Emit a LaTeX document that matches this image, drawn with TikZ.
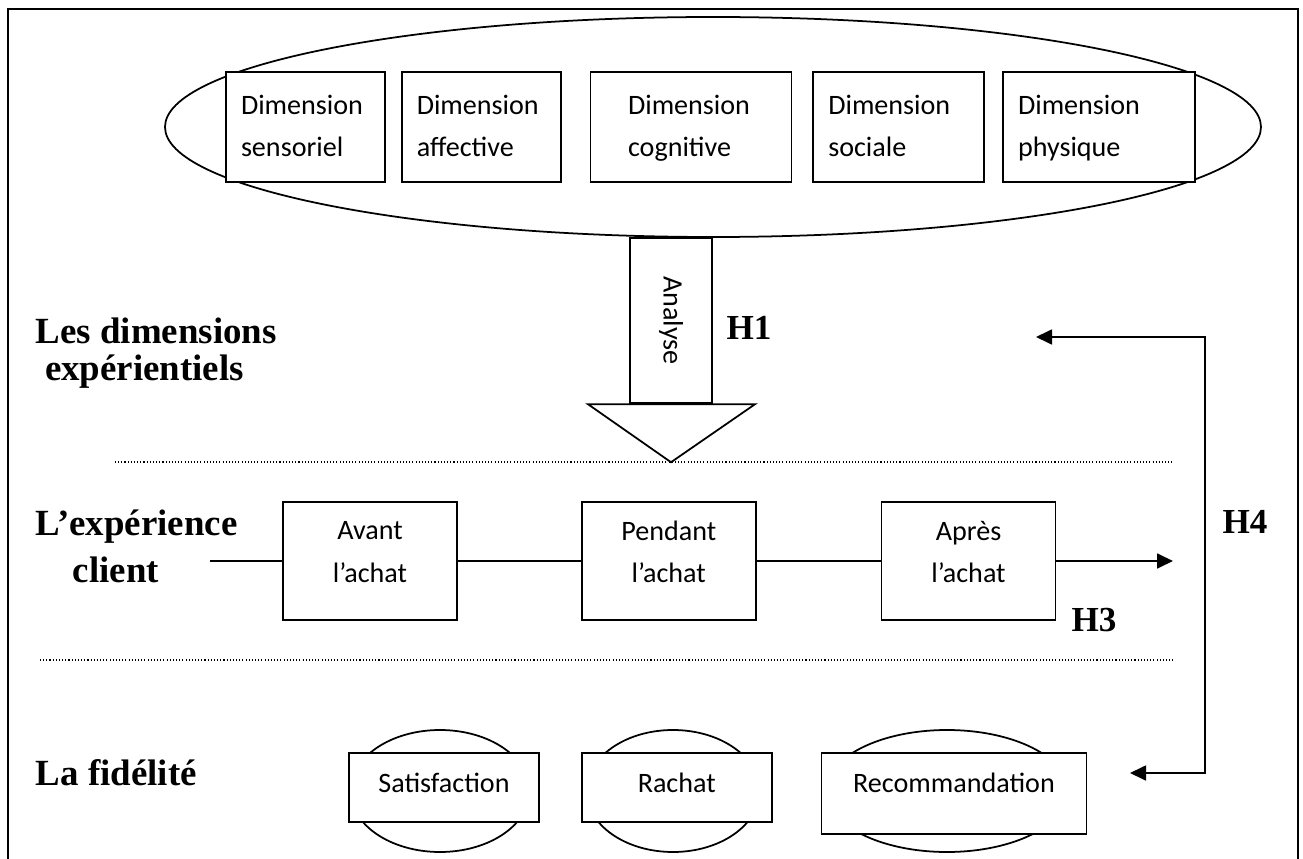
\documentclass[tikz,border=0pt]{standalone}
\usepackage{fontspec}
\setmainfont{Liberation Serif}
\newfontfamily\calibri{Carlito}
\usetikzlibrary{arrows.meta}
\usetikzlibrary{positioning, shapes.geometric}

\begin{document}
\begin{tikzpicture}[>={Triangle[length=0.32cm,width=0.3cm]},line width=1pt,
  dim box/.style={rectangle,draw,fill=white,font=\calibri\fontsize{16}{24}\selectfont,align=left,text width=#1,minimum height=2.2cm,inner xsep=0.3cm,inner ysep=0pt},
  stage box/.style={rectangle,draw,fill=white,font=\calibri\fontsize{16}{24}\selectfont,align=center,minimum width=3.48cm,minimum height=2.36cm,execute at end node={\rule[-0.36cm]{0pt}{0.36cm}}},
  fact box/.style={rectangle,draw,fill=white,font=\calibri\fontsize{16}{19}\selectfont,minimum width=3.8cm,minimum height=1.38cm,text depth=0.2cm},
  fact oval/.style={ellipse,draw,inner sep=0pt,minimum height=2.44cm},
  side label/.style={font=\bfseries\fontsize{21}{21}\selectfont,align=left,anchor=north west,inner sep=0pt},
  hyp/.style={font=\bfseries\fontsize{20}{24}\selectfont,inner sep=0pt},
  sep line/.style={line width=0.6pt,dash pattern=on 0.6pt off 1.2pt}]

        \useasboundingbox (0,0) rectangle (26.06,-17.18);
        \draw (0.16,-17.18) -- (0.16,-0.18) -- (25.96,-0.18) -- (25.96,-17.18);

        \node[ellipse,draw,minimum width=21.92cm,minimum height=4.4cm,inner sep=0pt] (dimoval) at (14.26,-2.54) {};
        \node[dim box=2.58cm] (sens) at (6.11,-2.54) {\strut Dimension\\sensoriel\strut};
        \node[dim box=2.58cm] (affect) [right=0.3cm of sens]  {\strut Dimension\\affective\strut};
        \node[dim box=2.52cm,inner xsep=0.75cm] (cogn) [right=0.56cm of affect] {\strut Dimension\\cognitive\strut};
        \node[dim box=2.82cm] (soc) [right=0.4cm of cogn]   {\strut Dimension\\sociale\strut};
        \node[dim box=3.24cm] (phys) [right=0.34cm of soc]  {\strut Dimension\\physique\strut};

        \node[rectangle,draw,fill=white,line width=1.4pt,rotate=-90,minimum width=3.3cm,minimum height=1.64cm,inner sep=0pt,font=\calibri\fontsize{16}{19}\selectfont] (analyse) at (13.42,-6.41) {Analyse};
        \draw[fill=white] ([xshift=-1.66cm]analyse.east) -- ([xshift=1.68cm]analyse.east) -- ([yshift=-1.16cm]analyse.east) -- cycle;
        \node[hyp] (h1) at (14.98,-6.56) {H1};

        \node[side label] (dimlabel) at (0.70,-6.34) {Les dimensions\\\hspace*{0.25em}expérientiels};
        \draw[sep line] (2.30,-9.24) -- (23.44,-9.24);

        \node[side label,font=\bfseries\fontsize{21}{26.6}\selectfont] (explabel) at (0.70,-10.18) {L’expérience\\\hspace*{1em}client};
        \node[stage box] (avant) at (7.40,-11.22) {Avant\\l’achat};
        \node[stage box] (pendant) [right=2.46cm of avant]   {Pendant\\l’achat};
        \node[stage box] (apres)   [right=2.48cm of pendant] {Après\\l’achat};
        \coordinate (start)  at (4.20,-11.22);
        \coordinate (finish) at (23.46,-11.22);
        \path
            (start)   edge        (avant)
            (avant)   edge        (pendant)
            (pendant) edge        (apres)
            (apres)   edge [->]   (finish);
        \node[hyp] (h3) at (21.88,-12.40) {H3};
        \draw[sep line] (0.80,-13.20) -- (23.48,-13.20);

        \node[side label] (fidlabel) at (0.70,-15.18) {La fidélité};
        \node[fact oval,minimum width=3.58cm] (satoval)  at (8.80,-15.82)  {};
        \node[fact oval,minimum width=3.46cm] (rachoval) at (13.46,-15.82) {};
        \node[fact oval,minimum width=4.84cm] (recoval)  at (18.94,-15.82) {};
        \node[fact box] (satis) at (8.88,-15.75) {Satisfaction};
        \node[fact box] (rachat) [right=0.82cm of satis] {Rachat};
        \node[fact box,minimum width=5.3cm,minimum height=1.62cm,text depth=0.45cm,yshift=-0.12cm] (recom) [right=0.96cm of rachat] {Recommandation};

        \coordinate (loopin)  at (20.72,-6.74);
        \coordinate (loopout) at (22.60,-15.46);
        \draw[<->] (loopin) -- ++(3.38,0) |- (loopout);
        \node[hyp] (h4) at (24.90,-10.44) {H4};
\end{tikzpicture}
\end{document}
